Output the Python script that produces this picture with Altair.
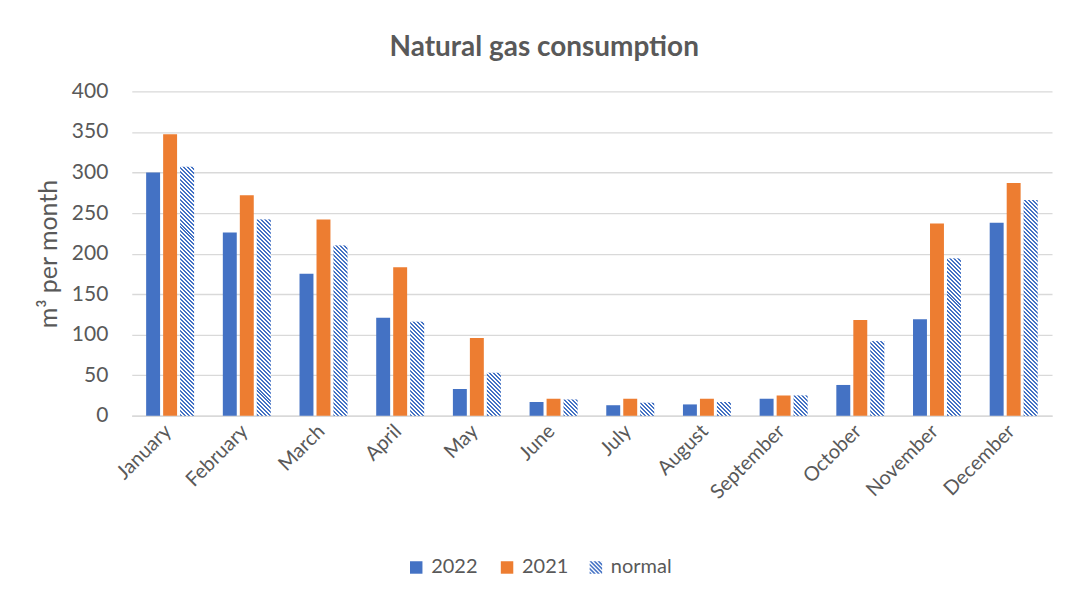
import altair as alt
import pandas as pd

months = ["January", "February", "March", "April", "May", "June", "July",
          "August", "September", "October", "November", "December"]
gas_2022 = [300, 226, 175, 121, 33, 17, 13, 14, 21, 38, 119, 238]
gas_2021 = [347, 272, 242, 183, 96, 21, 21, 21, 25, 118, 237, 287]
gas_normal = [307, 242, 210, 116, 53, 20, 16, 17, 25, 92, 194, 266]
series_names = ["2022", "2021", "normal"]
y_ticks = [0, 50, 100, 150, 200, 250, 300, 350, 400]

BLUE = "#4472C4"
ORANGE = "#ED7D31"
TEXT = "#595959"
GRID = "#D9D9D9"
FONT = "Lato"

W, H = 922, 325
Y_MAX = 400
X_PAD_IN, X_PAD_OUT = 0.375, 0.1875
OFF_PAD = 0.18
CHUNK = 64            # the striped bars are painted in pieces of this many units
PERIOD = 4.0          # stripe period in pixels (horizontal)

rows = []
for i, m in enumerate(months):
    rows.append({"month": m, "series": "2022", "value": gas_2022[i]})
    rows.append({"month": m, "series": "2021", "value": gas_2021[i]})
    rows.append({"month": m, "series": "normal", "value": gas_normal[i]})
df = pd.DataFrame(rows)

# split the "normal" bars into stacked pieces (for a clean stripe fill)
seg_rows = []
for i, m in enumerate(months):
    v = gas_normal[i]
    lo = 0
    while lo < v:
        hi = min(lo + CHUNK, v)
        seg_rows.append({"month": m, "series": "normal", "lo": lo, "hi": hi,
                         "full": (hi - lo) == CHUNK})
        lo = hi
seg_df = pd.DataFrame(seg_rows)

# bar pixel geometry (for the stripe pattern)
step = W / (len(months) - X_PAD_IN + 2 * X_PAD_OUT)
group = step * (1 - X_PAD_IN)
bar_w = group / (3 - OFF_PAD) * (1 - OFF_PAD)
px_per_unit = H / Y_MAX


def stripe_gradient(h, w, period=PERIOD, frac=0.5):
    L = w + h
    s = L / (w * w + h * h)
    stops = []
    k = 0
    while k * period < L:
        a = round(k * period / L, 6)
        b = round(min((k + frac) * period / L, 1), 6)
        c = round(min((k + 1) * period / L, 1), 6)
        stops += [{"color": BLUE, "offset": a}, {"color": BLUE, "offset": b},
                  {"color": "#ffffff", "offset": b}, {"color": "#ffffff", "offset": c}]
        k += 1
    return {"gradient": "linear", "x1": 0, "y1": 1,
            "x2": round(s * w, 6), "y2": round(1 - s * h, 6), "stops": stops}


def clip(poly, a, b, c):
    # keep a*x + b*y <= c
    out = []
    n = len(poly)
    for i in range(n):
        p, q = poly[i], poly[(i + 1) % n]
        fp = a * p[0] + b * p[1] - c
        fq = a * q[0] + b * q[1] - c
        if fp <= 0:
            out.append(p)
        if (fp < 0 < fq) or (fq < 0 < fp):
            t = fp / (fp - fq)
            out.append((p[0] + t * (q[0] - p[0]), p[1] + t * (q[1] - p[1])))
    return out


def stripe_symbol(period=0.65, frac=0.55):
    square = [(-1, -1), (1, -1), (1, 1), (-1, 1)]
    parts = []
    cval = -2.0
    while cval < 2.0:
        poly = clip(square, -1, 1, -cval)
        poly = clip(poly, 1, -1, cval + period * frac)
        if len(poly) >= 3:
            parts.append("M" + "L".join(f"{x:.3f},{y:.3f}" for x, y in poly) + "Z")
        cval += period
    return "".join(parts)


x_enc = alt.X("month:N", sort=months,
              scale=alt.Scale(paddingInner=X_PAD_IN, paddingOuter=X_PAD_OUT),
              axis=alt.Axis(title=None, labelAngle=-45, labelFontSize=20,
                            labelColor=TEXT, labelFont=FONT, ticks=False,
                            domainColor=GRID, domainWidth=1.3, grid=False,
                            labelPadding=5, labelOffset=-9))
xo_enc = alt.XOffset("series:N", sort=series_names,
                     scale=alt.Scale(domain=series_names, paddingInner=OFF_PAD,
                                     paddingOuter=0))
y_scale = alt.Scale(domain=[0, Y_MAX], nice=False)
y_axis = alt.Axis(title="m³ per month", titleFontSize=25,
                  titleFontWeight="normal", titleColor=TEXT,
                  titleFont=FONT, labelFont=FONT, labelFontSize=21,
                  labelColor=TEXT, ticks=False, domain=False,
                  gridColor=GRID, gridWidth=1.3, values=y_ticks,
                  labelPadding=24, titlePadding=10)
y_enc = alt.Y("value:Q", scale=y_scale, axis=y_axis)

base = alt.Chart(df)
seg_base = alt.Chart(seg_df)

solid = base.transform_filter("datum.series != 'normal'").mark_bar().encode(
    x=x_enc, xOffset=xo_enc, y=y_enc,
    color=alt.Color("series:N", sort=["2022", "2021"],
                    scale=alt.Scale(domain=["2022", "2021"], range=[BLUE, ORANGE]),
                    legend=alt.Legend(title=None, orient="none", direction="horizontal",
                                      legendX=275, legendY=467, symbolType="square",
                                      symbolSize=156, symbolStrokeWidth=0,
                                      labelFontSize=20, labelColor=TEXT,
                                      labelFont=FONT, labelOffset=5,
                                      columnPadding=19))
)

normal_legend = base.transform_filter("datum.series == 'normal'").mark_bar(
    fillOpacity=0.3).encode(
    x=x_enc, xOffset=xo_enc, y=y_enc,
    fill=alt.Fill("series:N",
                  scale=alt.Scale(domain=["normal"], range=[BLUE]),
                  legend=alt.Legend(title=None, orient="none", direction="horizontal",
                                    legendX=455, legendY=467,
                                    symbolType=stripe_symbol(),
                                    symbolSize=156, symbolStrokeWidth=0,
                                    symbolOpacity=1, symbolFillColor=BLUE,
                                    labelFontSize=20, labelColor=TEXT,
                                    labelFont=FONT, labelOffset=5))
)

layers = [solid, normal_legend]

y_seg = alt.Y("lo:Q", scale=y_scale, axis=y_axis)
y2_seg = alt.Y2("hi:Q")

# full pieces share one geometry -> one gradient
layers.append(
    seg_base.transform_filter("datum.full").mark_bar(
        fill=stripe_gradient(CHUNK * px_per_unit, bar_w), strokeWidth=0
    ).encode(x=x_enc, xOffset=xo_enc, y=y_seg, y2=y2_seg)
)
# top pieces, each with its own height
for r in seg_rows:
    if r["full"]:
        continue
    h = (r["hi"] - r["lo"]) * px_per_unit
    layers.append(
        seg_base.transform_filter(
            f"!datum.full && datum.month == '{r['month']}'"
        ).mark_bar(fill=stripe_gradient(h, bar_w), strokeWidth=0).encode(
            x=x_enc, xOffset=xo_enc, y=y_seg, y2=y2_seg)
    )

chart = alt.layer(*layers).properties(
    width=W, height=H,
    title=alt.Title("Natural gas consumption", fontSize=28, fontWeight="bold",
                    color=TEXT, font=FONT, anchor="middle", frame="bounds",
                    offset=18),
    padding={"left": 28, "top": 26, "right": 5, "bottom": 5},
).configure_view(stroke=None)

chart.save("out.html", embed_options={"renderer": "svg", "actions": False})
